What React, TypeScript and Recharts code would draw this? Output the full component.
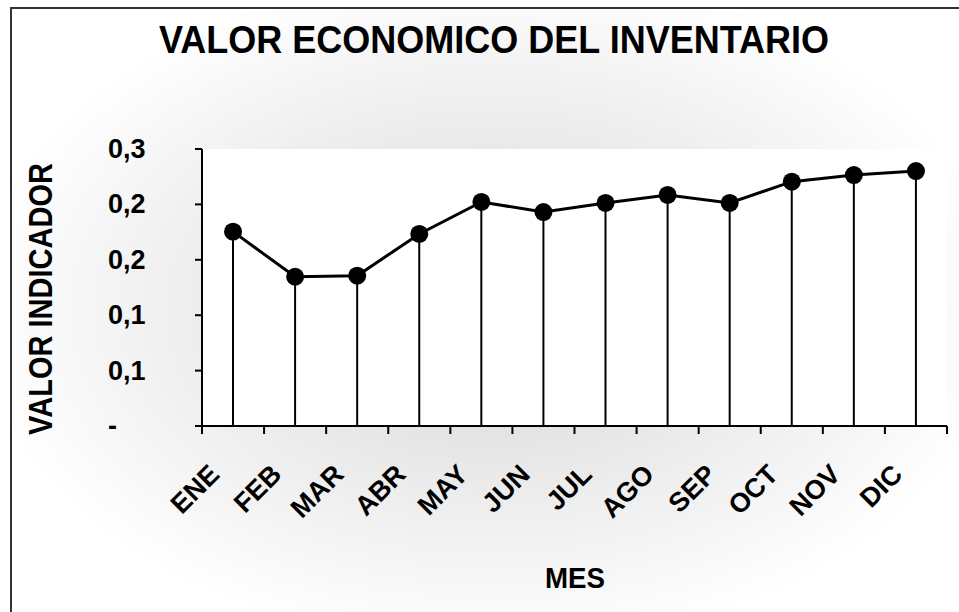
import React from 'react';
import { ComposedChart, Line, Bar, XAxis, YAxis, CartesianGrid } from 'recharts';

const months = ['ENE', 'FEB', 'MAR', 'ABR', 'MAY', 'JUN', 'JUL', 'AGO', 'SEP', 'OCT', 'NOV', 'DIC'];
const values = [0.1754, 0.1347, 0.1357, 0.1733, 0.2022, 0.1931, 0.2013, 0.2085, 0.2013, 0.2205, 0.2265, 0.2301];
const yTicks = [0, 0.05, 0.1, 0.15, 0.2, 0.25];
const yTickLabels = ['-', '0,1', '0,1', '0,2', '0,2', '0,3'];

const data = months.map((m, i) => ({ mes: m, x: i + 0.5, valor: values[i] }));
const xTicks: number[] = [];
for (let i = 0; i <= months.length; i++) {
  xTicks.push(i);
  if (i < months.length) xTicks.push(i + 0.5);
}

const FONT = '"Liberation Sans", Arial, sans-serif';

const XTick = (props: any) => {
  const { x, y, payload } = props;
  const v = payload.value as number;
  if (Number.isInteger(v)) {
    return <line x1={x} y1={y} x2={x} y2={y + 8} stroke="#000" strokeWidth={2} />;
  }
  const label = months[Math.floor(v)];
  const ax = x - 12;
  const ay = y + 50;
  return (
    <text
      x={ax}
      y={ay}
      textAnchor="end"
      transform={`rotate(-45, ${ax}, ${ay})`}
      fontFamily={FONT}
      fontWeight="bold"
      fontSize={27}
      fill="#000"
    >
      {label}
    </text>
  );
};

const YTick = (props: any) => {
  const { y, payload } = props;
  const idx = yTicks.indexOf(payload.value);
  return (
    <text x={108} y={y} dy={9} textAnchor="start" fontFamily={FONT} fontWeight="bold" fontSize={27} fill="#000">
      {yTickLabels[idx]}
    </text>
  );
};

export default function App() {
  return (
    <div style={{ position: 'absolute', left: 0, top: 0, width: 959, height: 612, overflow: 'hidden', background: '#fff' }}>
      <div
        style={{
          position: 'absolute',
          left: 10,
          top: 7,
          width: 1000,
          height: 700,
          borderLeft: '2px solid #333',
          borderTop: '2px solid #333',
          background: 'radial-gradient(520px 340px at 480px 300px, #d2d2d2 0%, #e6e6e6 40%, #ffffff 100%)',
        }}
      />
      <div style={{ position: 'absolute', left: 0, top: 0 }}>
        <ComposedChart width={959} height={612} data={data} margin={{ top: 149, right: 12, left: 142, bottom: 126 }}>
          <CartesianGrid fill="#ffffff" stroke="none" horizontal={false} vertical={false} />
          <XAxis
            dataKey="x"
            type="number"
            domain={[0, 12]}
            ticks={xTicks}
            interval={0}
            tickLine={false}
            tickSize={0}
            tickMargin={0}
            height={60}
            axisLine={{ stroke: '#000', strokeWidth: 2 }}
            tick={<XTick />}
          />
          <YAxis
            type="number"
            domain={[0, 0.25]}
            ticks={yTicks}
            interval={0}
            width={60}
            tickSize={7}
            tickLine={{ stroke: '#000', strokeWidth: 2 }}
            axisLine={{ stroke: '#000', strokeWidth: 2 }}
            tick={<YTick />}
          />
          <Bar dataKey="valor" barSize={2} fill="#000" isAnimationActive={false} />
          <Line
            type="linear"
            dataKey="valor"
            stroke="#000"
            strokeWidth={3}
            dot={{ r: 9, fill: '#000', stroke: 'none' }}
            activeDot={false}
            isAnimationActive={false}
          />
        </ComposedChart>
      </div>
      <svg width={959} height={612} style={{ position: 'absolute', left: 0, top: 0, pointerEvents: 'none' }}>
        <text x={494} y={53} textAnchor="middle" fontFamily={FONT} fontWeight="bold" fontSize={39} fill="#000" textLength={670} lengthAdjust="spacingAndGlyphs">
          VALOR ECONOMICO DEL INVENTARIO
        </text>
        <text x={52} y={299} textAnchor="middle" transform="rotate(-90, 52, 299)" fontFamily={FONT} fontWeight="bold" fontSize={34} fill="#000" textLength={272} lengthAdjust="spacingAndGlyphs">
          VALOR INDICADOR
        </text>
        <text x={575} y={588} textAnchor="middle" fontFamily={FONT} fontWeight="bold" fontSize={29} fill="#000" textLength={60} lengthAdjust="spacingAndGlyphs">
          MES
        </text>
      </svg>
    </div>
  );
}
